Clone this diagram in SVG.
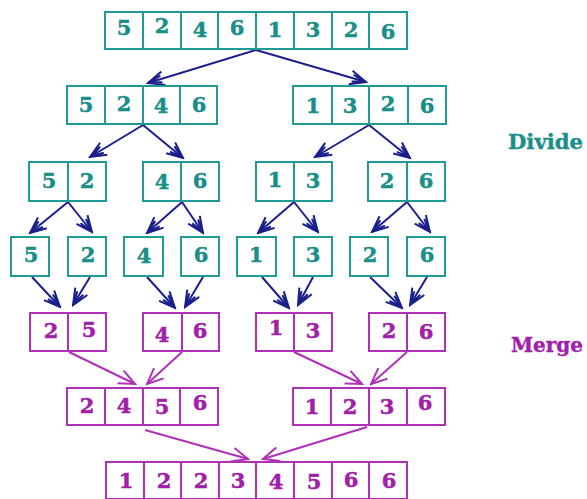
<svg xmlns="http://www.w3.org/2000/svg" width="587" height="499" viewBox="0 0 587 499">
<style>
.t{fill:#fff;stroke:#1f9a94;stroke-width:2}
.m{fill:#fff;stroke:#b030b8;stroke-width:2}
.tl{stroke:#1f9a94;stroke-width:2}
.ml{stroke:#b030b8;stroke-width:2}
.tt{fill:#1a8f8a;stroke:#1a8f8a;stroke-width:0.5;font-family:"DejaVu Serif","Liberation Serif",serif;font-weight:bold;font-size:21px;text-anchor:middle}
.mt{fill:#a020a8;stroke:#a020a8;stroke-width:0.5;font-family:"DejaVu Serif","Liberation Serif",serif;font-weight:bold;font-size:21px;text-anchor:middle}
.a{stroke:#1b1f8c;stroke-width:2;fill:none;marker-end:url(#ah)}
.ma{stroke:#b030b8;stroke-width:2;fill:none;marker-end:url(#mh)}
.lbl{font-family:"DejaVu Serif","Liberation Serif",serif;font-weight:bold;font-size:21px;stroke-width:0.4}
</style>
<defs>
<marker id="ah" viewBox="-18 -9 20 18" refX="0" refY="0" markerWidth="20" markerHeight="18" markerUnits="userSpaceOnUse" orient="auto">
<path d="M-16,-7 L0,0 L-16,7 M-14,-3.5 L-2,0 L-14,3.5" fill="none" stroke="#1b1f8c" stroke-width="2"/>
</marker>
<marker id="mh" viewBox="-18 -9 20 18" refX="0" refY="0" markerWidth="20" markerHeight="18" markerUnits="userSpaceOnUse" orient="auto">
<path d="M-16,-7 L0,0 L-16,7" fill="none" stroke="#b030b8" stroke-width="2"/>
</marker>
</defs>
<rect width="587" height="499" fill="#fff"/>

<g id="connectors">
<line class="a" x1="256" y1="50" x2="148" y2="83"/>
<line class="a" x1="256" y1="50" x2="366" y2="82"/>
<line class="a" x1="143" y1="125" x2="90" y2="157"/>
<line class="a" x1="143" y1="125" x2="183" y2="158"/>
<line class="a" x1="369" y1="125" x2="315" y2="157"/>
<line class="a" x1="369" y1="125" x2="410" y2="158"/>
<line class="a" x1="68" y1="202" x2="30" y2="233"/>
<line class="a" x1="68" y1="202" x2="92" y2="232"/>
<line class="a" x1="182" y1="202" x2="147" y2="233"/>
<line class="a" x1="182" y1="202" x2="203" y2="233"/>
<line class="a" x1="294" y1="202" x2="258" y2="233"/>
<line class="a" x1="294" y1="202" x2="318" y2="232"/>
<line class="a" x1="407" y1="202" x2="372" y2="232"/>
<line class="a" x1="407" y1="202" x2="430" y2="232"/>
<line class="a" x1="32" y1="277" x2="60" y2="307"/>
<line class="a" x1="90" y1="277" x2="73" y2="305"/>
<line class="a" x1="147" y1="277" x2="175" y2="308"/>
<line class="a" x1="203" y1="277" x2="185" y2="307"/>
<line class="a" x1="262" y1="277" x2="289" y2="308"/>
<line class="a" x1="313" y1="277" x2="298" y2="305"/>
<line class="a" x1="370" y1="277" x2="402" y2="308"/>
<line class="a" x1="427" y1="277" x2="410" y2="305"/>
<line class="ma" x1="69" y1="352" x2="135" y2="384"/>
<line class="ma" x1="182" y1="352" x2="147" y2="384"/>
<line class="ma" x1="294" y1="352" x2="362" y2="384"/>
<line class="ma" x1="407" y1="352" x2="371" y2="384"/>
<line class="ma" x1="145" y1="430" x2="248" y2="459"/>
<line class="ma" x1="367" y1="427" x2="263" y2="459"/>
</g>

<g id="row1">
<rect class="t" x="105" y="12" width="302" height="37"/>
<path class="tl" d="M143,12V49M181,12V49M218,12V49M256,12V49M294,12V49M332,12V49M369,12V49"/>
<text class="tt" x="124" y="35">5</text>
<text class="tt" x="162" y="33">2</text>
<text class="tt" x="200" y="37">4</text>
<text class="tt" x="237" y="35">6</text>
<text class="tt" x="275" y="37">1</text>
<text class="tt" x="313" y="37">3</text>
<text class="tt" x="351" y="37">2</text>
<text class="tt" x="388" y="39">6</text>
</g>

<g id="row2-left">
<rect class="t" x="67" y="86" width="150" height="38"/>
<path class="tl" d="M105,86V124M143,86V124M180,86V124"/>
<text class="tt" x="86" y="112">5</text>
<text class="tt" x="124" y="111">2</text>
<text class="tt" x="161" y="113">4</text>
<text class="tt" x="199" y="112">6</text>
</g>
<g id="row2-right">
<rect class="t" x="293" y="86" width="153" height="38"/>
<path class="tl" d="M332,86V124M369,86V124M408,86V124"/>
<text class="tt" x="313" y="113">1</text>
<text class="tt" x="350" y="113">3</text>
<text class="tt" x="388" y="111">2</text>
<text class="tt" x="427" y="113">6</text>
</g>

<g id="row3-52">
<rect class="t" x="29" y="162" width="77" height="39"/>
<path class="tl" d="M68,162V201"/>
<text class="tt" x="49" y="188">5</text>
<text class="tt" x="87" y="188">2</text>
</g>
<g id="row3-46">
<rect class="t" x="143" y="162" width="76" height="39"/>
<path class="tl" d="M181,162V201"/>
<text class="tt" x="162" y="189">4</text>
<text class="tt" x="200" y="188">6</text>
</g>
<g id="row3-13">
<rect class="t" x="256" y="162" width="76" height="39"/>
<path class="tl" d="M294,162V201"/>
<text class="tt" x="275" y="187">1</text>
<text class="tt" x="313" y="188">3</text>
</g>
<g id="row3-26">
<rect class="t" x="368" y="162" width="77" height="39"/>
<path class="tl" d="M407,162V201"/>
<text class="tt" x="387" y="188">2</text>
<text class="tt" x="426" y="188">6</text>
</g>

<g id="row4-5"><rect class="t" x="11" y="237" width="38" height="39"/><text class="tt" x="31" y="262">5</text></g>
<g id="row4-2"><rect class="t" x="68" y="237" width="38" height="39"/><text class="tt" x="88" y="262">2</text></g>
<g id="row4-4"><rect class="t" x="124" y="237" width="39" height="39"/><text class="tt" x="144" y="263">4</text></g>
<g id="row4-6"><rect class="t" x="181" y="237" width="38" height="39"/><text class="tt" x="201" y="262">6</text></g>
<g id="row4-1"><rect class="t" x="237" y="237" width="39" height="39"/><text class="tt" x="256" y="262">1</text></g>
<g id="row4-3"><rect class="t" x="294" y="237" width="38" height="39"/><text class="tt" x="313" y="262">3</text></g>
<g id="row4-2b"><rect class="t" x="350" y="237" width="38" height="39"/><text class="tt" x="370" y="262">2</text></g>
<g id="row4-6b"><rect class="t" x="407" y="237" width="38" height="39"/><text class="tt" x="427" y="262">6</text></g>

<g id="row5-25">
<rect class="m" x="30" y="313" width="76" height="38"/>
<path class="ml" d="M68,313V351"/>
<text class="mt" x="51" y="338">2</text>
<text class="mt" x="89" y="337">5</text>
</g>
<g id="row5-46">
<rect class="m" x="143" y="313" width="76" height="38"/>
<path class="ml" d="M182,313V351"/>
<text class="mt" x="162" y="342">4</text>
<text class="mt" x="200" y="338">6</text>
</g>
<g id="row5-13">
<rect class="m" x="256" y="313" width="76" height="38"/>
<path class="ml" d="M294,313V351"/>
<text class="mt" x="276" y="335">1</text>
<text class="mt" x="313" y="338">3</text>
</g>
<g id="row5-26">
<rect class="m" x="369" y="313" width="76" height="38"/>
<path class="ml" d="M407,313V351"/>
<text class="mt" x="389" y="338">2</text>
<text class="mt" x="426" y="339">6</text>
</g>

<g id="row6-left">
<rect class="m" x="67" y="388" width="151" height="37"/>
<path class="ml" d="M105,388V425M143,388V425M180,388V425"/>
<text class="mt" x="87" y="413">2</text>
<text class="mt" x="124" y="413">4</text>
<text class="mt" x="162" y="414">5</text>
<text class="mt" x="200" y="410">6</text>
</g>
<g id="row6-right">
<rect class="m" x="293" y="388" width="152" height="37"/>
<path class="ml" d="M331,388V425M369,388V425M407,388V425"/>
<text class="mt" x="312" y="414">1</text>
<text class="mt" x="350" y="414">2</text>
<text class="mt" x="387" y="414">3</text>
<text class="mt" x="425" y="410">6</text>
</g>

<g id="row7">
<rect class="m" x="106" y="462" width="301" height="37"/>
<path class="ml" d="M144,462V499M181,462V499M219,462V499M256,462V499M294,462V499M332,462V499M369,462V499"/>
<text class="mt" x="126" y="488">1</text>
<text class="mt" x="164" y="488">2</text>
<text class="mt" x="201" y="488">2</text>
<text class="mt" x="238" y="488">3</text>
<text class="mt" x="276" y="489">4</text>
<text class="mt" x="314" y="489">5</text>
<text class="mt" x="351" y="487">6</text>
<text class="mt" x="389" y="488">6</text>
</g>

<text class="lbl" x="508" y="149" fill="#1a8f8a" stroke="#1a8f8a" textLength="75" lengthAdjust="spacingAndGlyphs">Divide</text>
<text class="lbl" x="511" y="352" fill="#a020a8" stroke="#a020a8" textLength="72" lengthAdjust="spacingAndGlyphs">Merge</text>
</svg>
